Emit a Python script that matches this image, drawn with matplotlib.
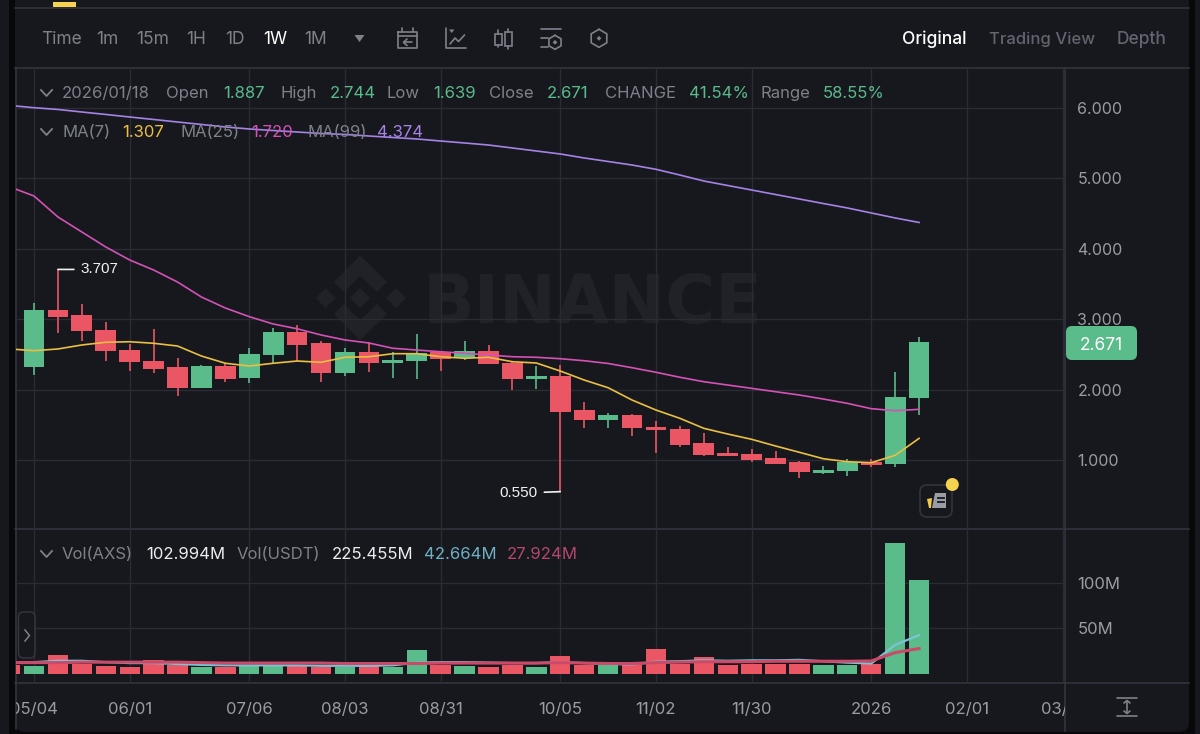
#!env python3
# -*- coding: utf-8 -*-
import matplotlib
matplotlib.use('Agg')
import matplotlib.pyplot as plt
import numpy as np
from matplotlib.patches import Circle, FancyBboxPatch, Polygon, Rectangle
from matplotlib.transforms import Bbox

plt.rcParams['font.family'] = ['Inter', 'DejaVu Sans']

### Weekly candles, AXS/USDT
opens = [2.325, 3.131, 3.055, 2.847, 2.567, 2.406, 2.317, 2.027, 2.340, 2.160,
         2.491, 2.818, 2.662, 2.231, 2.530, 2.382, 2.406, 2.534, 2.445, 2.544,
         2.382, 2.146, 2.189, 1.706, 1.568, 1.639, 1.473, 1.445, 1.237, 1.099,
         1.089, 1.024, 0.967, 0.820, 0.839, 0.976, 0.943, 1.887]
highs = [3.226, 3.707, 3.212, 2.956, 2.648, 2.856, 2.449, 2.354, 2.374, 2.591,
         2.875, 2.922, 2.695, 2.595, 2.672, 2.530, 2.794, 2.550, 2.695, 2.629,
         2.400, 2.335, 2.349, 1.828, 1.672, 1.653, 1.558, 1.483, 1.379, 1.180,
         1.152, 1.132, 0.990, 0.915, 1.020, 1.010, 2.254, 2.744]
lows = [2.207, 2.808, 2.695, 2.406, 2.268, 2.232, 1.909, 2.027, 2.104, 2.089,
        2.374, 2.406, 2.111, 2.197, 2.250, 2.165, 2.151, 2.264, 2.420, 2.359,
        1.990, 2.013, 0.550, 1.455, 1.455, 1.341, 1.095, 1.185, 1.061, 1.057,
        0.970, 0.947, 0.749, 0.800, 0.777, 0.896, 0.900, 1.639]
closes = [3.131, 3.031, 2.828, 2.548, 2.388, 2.297, 2.027, 2.340, 2.155, 2.510,
          2.818, 2.634, 2.231, 2.530, 2.382, 2.425, 2.524, 2.439, 2.544, 2.359,
          2.151, 2.189, 1.682, 1.568, 1.639, 1.450, 1.422, 1.217, 1.075, 1.057,
          1.000, 0.947, 0.834, 0.862, 0.976, 0.925, 1.891, 2.671]

### Moving averages, first value is the week cut off on the left
ma7 = [2.577, 2.553, 2.577, 2.634, 2.672, 2.680, 2.658, 2.619, 2.477, 2.374,
       2.335, 2.374, 2.406, 2.388, 2.459, 2.467, 2.510, 2.510, 2.467, 2.445,
       2.459, 2.396, 2.378, 2.264, 2.136, 2.027, 1.852, 1.710, 1.592, 1.450,
       1.369, 1.294, 1.199, 1.109, 1.018, 0.976, 0.962, 1.067, 1.307]
ma25 = [4.878, 4.750, 4.452, 4.239, 4.026, 3.841, 3.699, 3.528, 3.315, 3.159,
        3.036, 2.932, 2.864, 2.776, 2.705, 2.662, 2.587, 2.562, 2.538, 2.516,
        2.491, 2.467, 2.459, 2.439, 2.410, 2.371, 2.311, 2.246, 2.175, 2.112,
        2.065, 2.018, 1.970, 1.923, 1.866, 1.805, 1.729, 1.700, 1.720]
ma99 = [6.036, 6.004, 5.979, 5.943, 5.908, 5.872, 5.837, 5.801, 5.766, 5.730,
        5.702, 5.680, 5.659, 5.638, 5.624, 5.602, 5.581, 5.560, 5.531, 5.503,
        5.474, 5.432, 5.389, 5.347, 5.290, 5.240, 5.190, 5.129, 5.048, 4.963,
        4.899, 4.835, 4.771, 4.707, 4.643, 4.580, 4.509, 4.438, 4.374]

### Volume in millions, first value is the week cut off on the left
volumes = [10, 9.2, 20.9, 10.6, 9.2, 8, 15.4, 10, 8, 8, 8.8, 8.8, 8.8, 8, 7.3,
           8.8, 8, 26.7, 10, 8.8, 8, 10, 7.3, 19.8, 10, 10, 10, 27, 10.6, 19,
           10, 10.6, 10.6, 10.6, 10, 10, 10.6, 143.6, 102.994]
vol_ma5 = [12, 13, 14.5, 14.5, 13, 12, 12, 11, 10, 9.5, 9.5, 9.5, 9.5, 9, 9, 9,
           9.5, 12.5, 13, 13, 12.5, 12, 12, 13, 12, 11, 10.5, 13.5, 14, 15,
           14.5, 15, 15, 15.5, 14, 12.5, 11.5, 32, 42.664]
vol_ma10 = [12.5, 12.5, 12.5, 13, 13, 13, 13, 13, 12.5, 12, 12, 12, 12, 12,
            11.5, 11.5, 11.5, 11.5, 12, 12, 12, 12, 12, 12.5, 12, 11.5, 11.5,
            12.5, 13, 13.5, 13.5, 13.5, 14, 14, 14, 14, 14.3, 23.5, 27.924]
vol_up = [False, True, False, False, False, False, False, False, True, False,
          True, True, False, False, True, False, True, True, False, True, False,
          False, True, False, False, True, False, False, False, False, False,
          False, False, False, True, True, False, True, True]

date_ticks = [0, 4, 9, 13, 17, 22, 26, 30, 35, 39, 43]
date_labels = ['05/04', '06/01', '07/06', '08/03', '08/31', '10/05', '11/02',
               '11/30', '2026', '02/01', '03/01']
price_ticks = [1, 2, 3, 4, 5, 6]
vol_ticks = [50, 100]
vol_tick_labels = ['50M', '100M']

intervals = [('Time', 41), ('1m', 96), ('15m', 136), ('1H', 186), ('1D', 225),
             ('1W', 263), ('1M', 304)]

BG = '#17181e'
GRID = '#2a2c33'
SEP = '#343640'
GREEN = '#5abb8b'
RED = '#ea5664'
GREY = '#7e818a'
DIM = '#62656f'
AXIS_TXT = '#9a9ca3'

W, H = 1200, 734


def px_axes(left, top, right, bottom, **kw):
    return fig.add_axes([left / W, 1 - bottom / H, (right - left) / W, (bottom - top) / H], **kw)


fig = plt.figure(figsize=(12, 7.34), dpi=100, facecolor=BG)

### Backdrop in pixel coordinates: panel, watermark
back = px_axes(0, 0, W, H, zorder=0)
back.set_xlim(0, W)
back.set_ylim(H, 0)
back.axis('off')
back.add_patch(FancyBboxPatch((9, -30), 1186, 770, boxstyle='round,pad=0,rounding_size=8',
                              fc='#08080a', ec='none'))
back.add_patch(FancyBboxPatch((15, -30), 1174, 762, boxstyle='round,pad=0,rounding_size=10',
                              fc=BG, ec='none'))
back.add_patch(Rectangle((52.5, 2), 23.5, 5, fc='#f5d24f', ec='none'))
WM = '#212228'
for cx in [325.7, 360, 396]:
    back.add_patch(Polygon([(cx - 10, 298), (cx, 288), (cx + 10, 298), (cx, 308)], fc=WM, ec='none'))
chevron = [(334, 282), (360, 255.5), (387, 282), (377, 292), (360, 275.5), (344, 292)]
back.add_patch(Polygon(chevron, fc=WM, ec='none'))
back.add_patch(Polygon([(a, 596 - b) for a, b in chevron], fc=WM, ec='none'))
back.text(423, 323, 'BINANCE', color=WM, fontsize=49, fontweight='bold', family='DejaVu Sans',
          va='baseline', ha='left')
for yy in [8, 68, 529, 683]:
    back.plot([15, 1189], [yy, yy], color=SEP, lw=1.1)
back.plot([16, 16], [68, 729], color=SEP, lw=1.1)
back.plot([1065, 1065], [68, 731], color=SEP, lw=1.1)

### Price panel
ax = px_axes(16, 68, 1065, 529, zorder=1)
ax.patch.set_alpha(0)
x = np.arange(len(opens))
ma_x = np.arange(-1, len(opens))
for i in x:
    col = GREEN if closes[i] >= opens[i] else RED
    ax.vlines(i, lows[i], highs[i], color=col, lw=1.2, zorder=3)
    ax.bar(i, abs(closes[i] - opens[i]), bottom=min(opens[i], closes[i]), width=0.865,
           color=col, lw=0, zorder=3)
ax.plot(ma_x, ma99, color='#a583e6', lw=1.2, zorder=4)
ax.plot(ma_x, ma25, color='#d452b5', lw=1.2, zorder=4)
ax.plot(ma_x, ma7, color='#eabf42', lw=1.2, zorder=4)
ax.set_xlim(-0.7525, 43.1)
ax.set_ylim(0.02, 6.568)
ax.set_xticks(date_ticks)
ax.set_yticks(price_ticks)
ax.set_yticklabels(['%.3f' % v for v in price_ticks])
ax.yaxis.tick_right()
ax.tick_params(axis='x', length=0, labelbottom=False)
ax.tick_params(axis='y', length=0, pad=9, labelsize=11.5, labelcolor=AXIS_TXT)
ax.grid(True, color=GRID, lw=1.0)
ax.set_axisbelow(True)
for s in ax.spines.values():
    s.set_visible(False)

hi_i = int(np.argmax(highs))
lo_i = int(np.argmin(lows))
ax.annotate('%.3f' % highs[hi_i], xy=(hi_i, highs[hi_i]), xytext=(16.5, 0), textcoords='offset points',
            color='#f2f2f2', fontsize=11, family='Liberation Sans', va='center', ha='left',
            arrowprops=dict(arrowstyle='-', color='#f2f2f2', lw=1.2, shrinkA=3, shrinkB=0))
ax.annotate('%.3f' % lows[lo_i], xy=(lo_i, lows[lo_i]), xytext=(-16.5, -1), textcoords='offset points',
            color='#f2f2f2', fontsize=11, family='Liberation Sans', va='center', ha='right',
            arrowprops=dict(arrowstyle='-', color='#f2f2f2', lw=1.2, shrinkA=3, shrinkB=0))

### Volume panel
vax = px_axes(16, 530, 1065, 683, zorder=1)
vax.patch.set_alpha(0)
vax.bar(ma_x, volumes, width=0.85, color=[GREEN if u else RED for u in vol_up], lw=0, zorder=3)
vax.plot(ma_x, vol_ma5, color='#7cc3d6', lw=1.6, zorder=4)
vax.plot(ma_x, vol_ma10, color='#cb4a69', lw=2.2, zorder=5)
vax.set_xlim(-0.7525, 43.1)
vax.set_ylim(-9.9, 158.2)
vax.set_xticks(date_ticks)
vax.set_xticklabels(date_labels)
vax.set_yticks(vol_ticks)
vax.set_yticklabels(vol_tick_labels)
vax.yaxis.tick_right()
vax.tick_params(axis='x', length=0, pad=13.5, labelsize=12, labelcolor=AXIS_TXT)
vax.tick_params(axis='y', length=0, pad=9, labelsize=12, labelcolor=AXIS_TXT)
vax.grid(True, color=GRID, lw=1.0)
vax.set_axisbelow(True)
for s in vax.spines.values():
    s.set_visible(False)
clip = Bbox([[16, 0], [1065, 60]])
for lab in vax.get_xticklabels():
    lab.set_clip_on(True)
    lab.set_clip_box(clip)

### Toolbar, legends and icons on top, pixel coordinates again
top = px_axes(0, 0, W, H, zorder=2)
top.set_xlim(0, W)
top.set_ylim(H, 0)
top.axis('off')
top.patch.set_alpha(0)


def label(xp, yp, s, color, size=12, **kw):
    top.text(xp, yp, s, color=color, fontsize=size, va='center', ha=kw.pop('ha', 'left'), **kw)


for s, xp in intervals:
    label(xp, 39.5, s, 'white' if s == '1W' else GREY, size=12.5)
top.add_patch(Polygon([(354.5, 35), (364.5, 35), (359.5, 42)], fc=GREY, ec='none'))
label(902, 39.5, 'Original', 'white', size=12.5, fontweight='medium')
label(989, 39.5, 'Trading View', DIM, fontweight='medium')
label(1117, 39.5, 'Depth', DIM, size=12.5, fontweight='medium')

row = [(62, '2026/01/18', GREY), (166, 'Open', GREY), (223, '%.3f' % opens[-1], GREEN),
       (280, 'High', GREY), (330, '%.3f' % highs[-1], GREEN), (387, 'Low', GREY),
       (433, '%.3f' % lows[-1], GREEN), (489, 'Close', GREY), (547, '%.3f' % closes[-1], GREEN),
       (605, 'CHANGE', GREY), (689, '41.54%', GREEN), (760.5, 'Range', GREY), (823, '58.55%', GREEN)]
for xp, s, c in row:
    label(xp, 93.5, s, c)
row = [(62, 'MA(7)', GREY), (122.5, '%.3f' % ma7[-1], '#eabf42'), (180, 'MA(25)', GREY),
       (251, '%.3f' % ma25[-1], '#d452b5'), (307.5, 'MA(99)', GREY), (377.5, '%.3f' % ma99[-1], '#a583e6')]
for xp, s, c in row:
    label(xp, 132.5, s, c)
row = [(62, 'Vol(AXS)', GREY), (146, '102.994M', '#eeeeee'), (237, 'Vol(USDT)', GREY),
       (332, '225.455M', '#eeeeee'), (424, '%.3fM' % vol_ma5[-1], '#6fb0c4'),
       (507, '%.3fM' % vol_ma10[-1], '#b5476a')]
for xp, s, c in row:
    label(xp, 554.5, s, c)
for yy in [93, 132, 554]:
    top.plot([41, 46.5, 52], [yy - 3, yy + 3, yy - 3], color=GREY, lw=1.3)

# current price tag
top.add_patch(FancyBboxPatch((1066, 326), 71, 34, boxstyle='round,pad=0,rounding_size=6', fc=GREEN, ec='none'))
label(1101.5, 346, '%.3f' % closes[-1], 'white', size=12.5, ha='center')

# expand handle on the volume panel
top.add_patch(FancyBboxPatch((18.5, 612), 16.5, 46, boxstyle='round,pad=0,rounding_size=5',
                             fc=BG, ec='#3a3d47', lw=1, alpha=0.85))
top.plot([25, 29.5, 25], [630, 635.5, 641], color=GREY, lw=1.1)

# news badge
top.add_patch(FancyBboxPatch((920, 485), 32, 32, boxstyle='round,pad=0,rounding_size=7', fc=BG, ec='#30323a', lw=1.3))
top.add_patch(Polygon([(935, 493), (946, 493), (946, 508), (932, 508)], fc='#9a9da5', ec='none'))
top.add_patch(Polygon([(927, 499), (932, 498), (931, 508), (929, 508)], fc='#f0c94a', ec='none'))
for yy in [497.5, 502]:
    top.plot([937.5, 943.5], [yy, yy], color=BG, lw=1.3)
top.add_patch(Circle((952.3, 484.5), 6.5, fc='#f3d24e', ec='none'))

# toolbar icons
ic = dict(color=GREY, lw=1.2, solid_capstyle='round')
top.plot([398, 417, 417, 398, 398], [32, 32, 48, 48, 32], **ic)
top.plot([398, 417], [36, 36], **ic)
top.plot([402, 402], [28, 32], **ic)
top.plot([413, 413], [28, 32], **ic)
top.plot([412, 404], [42.3, 42.3], **ic)
top.plot([407, 403.5, 407], [39, 42.3, 45.5], **ic)
top.plot([446, 446, 466], [28, 47.7, 47.7], **ic)
top.plot([450, 455, 458.5, 464.5], [44, 38, 41.5, 35], **ic)
top.add_patch(Polygon([(449, 29.5), (454.5, 29.5), (451.7, 33)], fc=GREY, ec='none'))
top.add_patch(Rectangle((495, 33.5), 6.5, 11, fc='none', ec=GREY, lw=1.2))
top.add_patch(Rectangle((505, 31.5), 6.5, 14, fc='none', ec=GREY, lw=1.2))
top.plot([498.3, 498.3], [30, 33.5], **ic)
top.plot([498.3, 498.3], [44.5, 47], **ic)
top.plot([508.3, 508.3], [28.5, 31.5], **ic)
top.plot([508.3, 508.3], [45.5, 48.5], **ic)
top.plot([541, 561], [29, 29], **ic)
top.plot([541, 547.5], [38.3, 38.3], **ic)
top.plot([541, 547.5], [46.7, 46.7], **ic)


def hexagon(cx, cy, r):
    ang = np.radians(np.arange(-90, 271, 60))
    top.plot(cx + r * np.cos(ang), cy + r * np.sin(ang), **ic)
    top.add_patch(Polygon([(cx - 2.4, cy), (cx, cy - 2.4), (cx + 2.4, cy), (cx, cy + 2.4)], fc=GREY, ec='none'))


hexagon(555, 42.3, 7)
hexagon(599, 38.3, 9)

# fit to scale button under the price axis
top.plot([1117, 1137], [698, 698], **ic)
top.plot([1117, 1137], [716, 716], **ic)
top.plot([1127, 1127], [701, 713], **ic)
top.plot([1124, 1127, 1130], [703, 700.5, 703], **ic)
top.plot([1124, 1127, 1130], [711, 713.5, 711], **ic)

fig.savefig('out.png', dpi=100, facecolor=fig.get_facecolor())
